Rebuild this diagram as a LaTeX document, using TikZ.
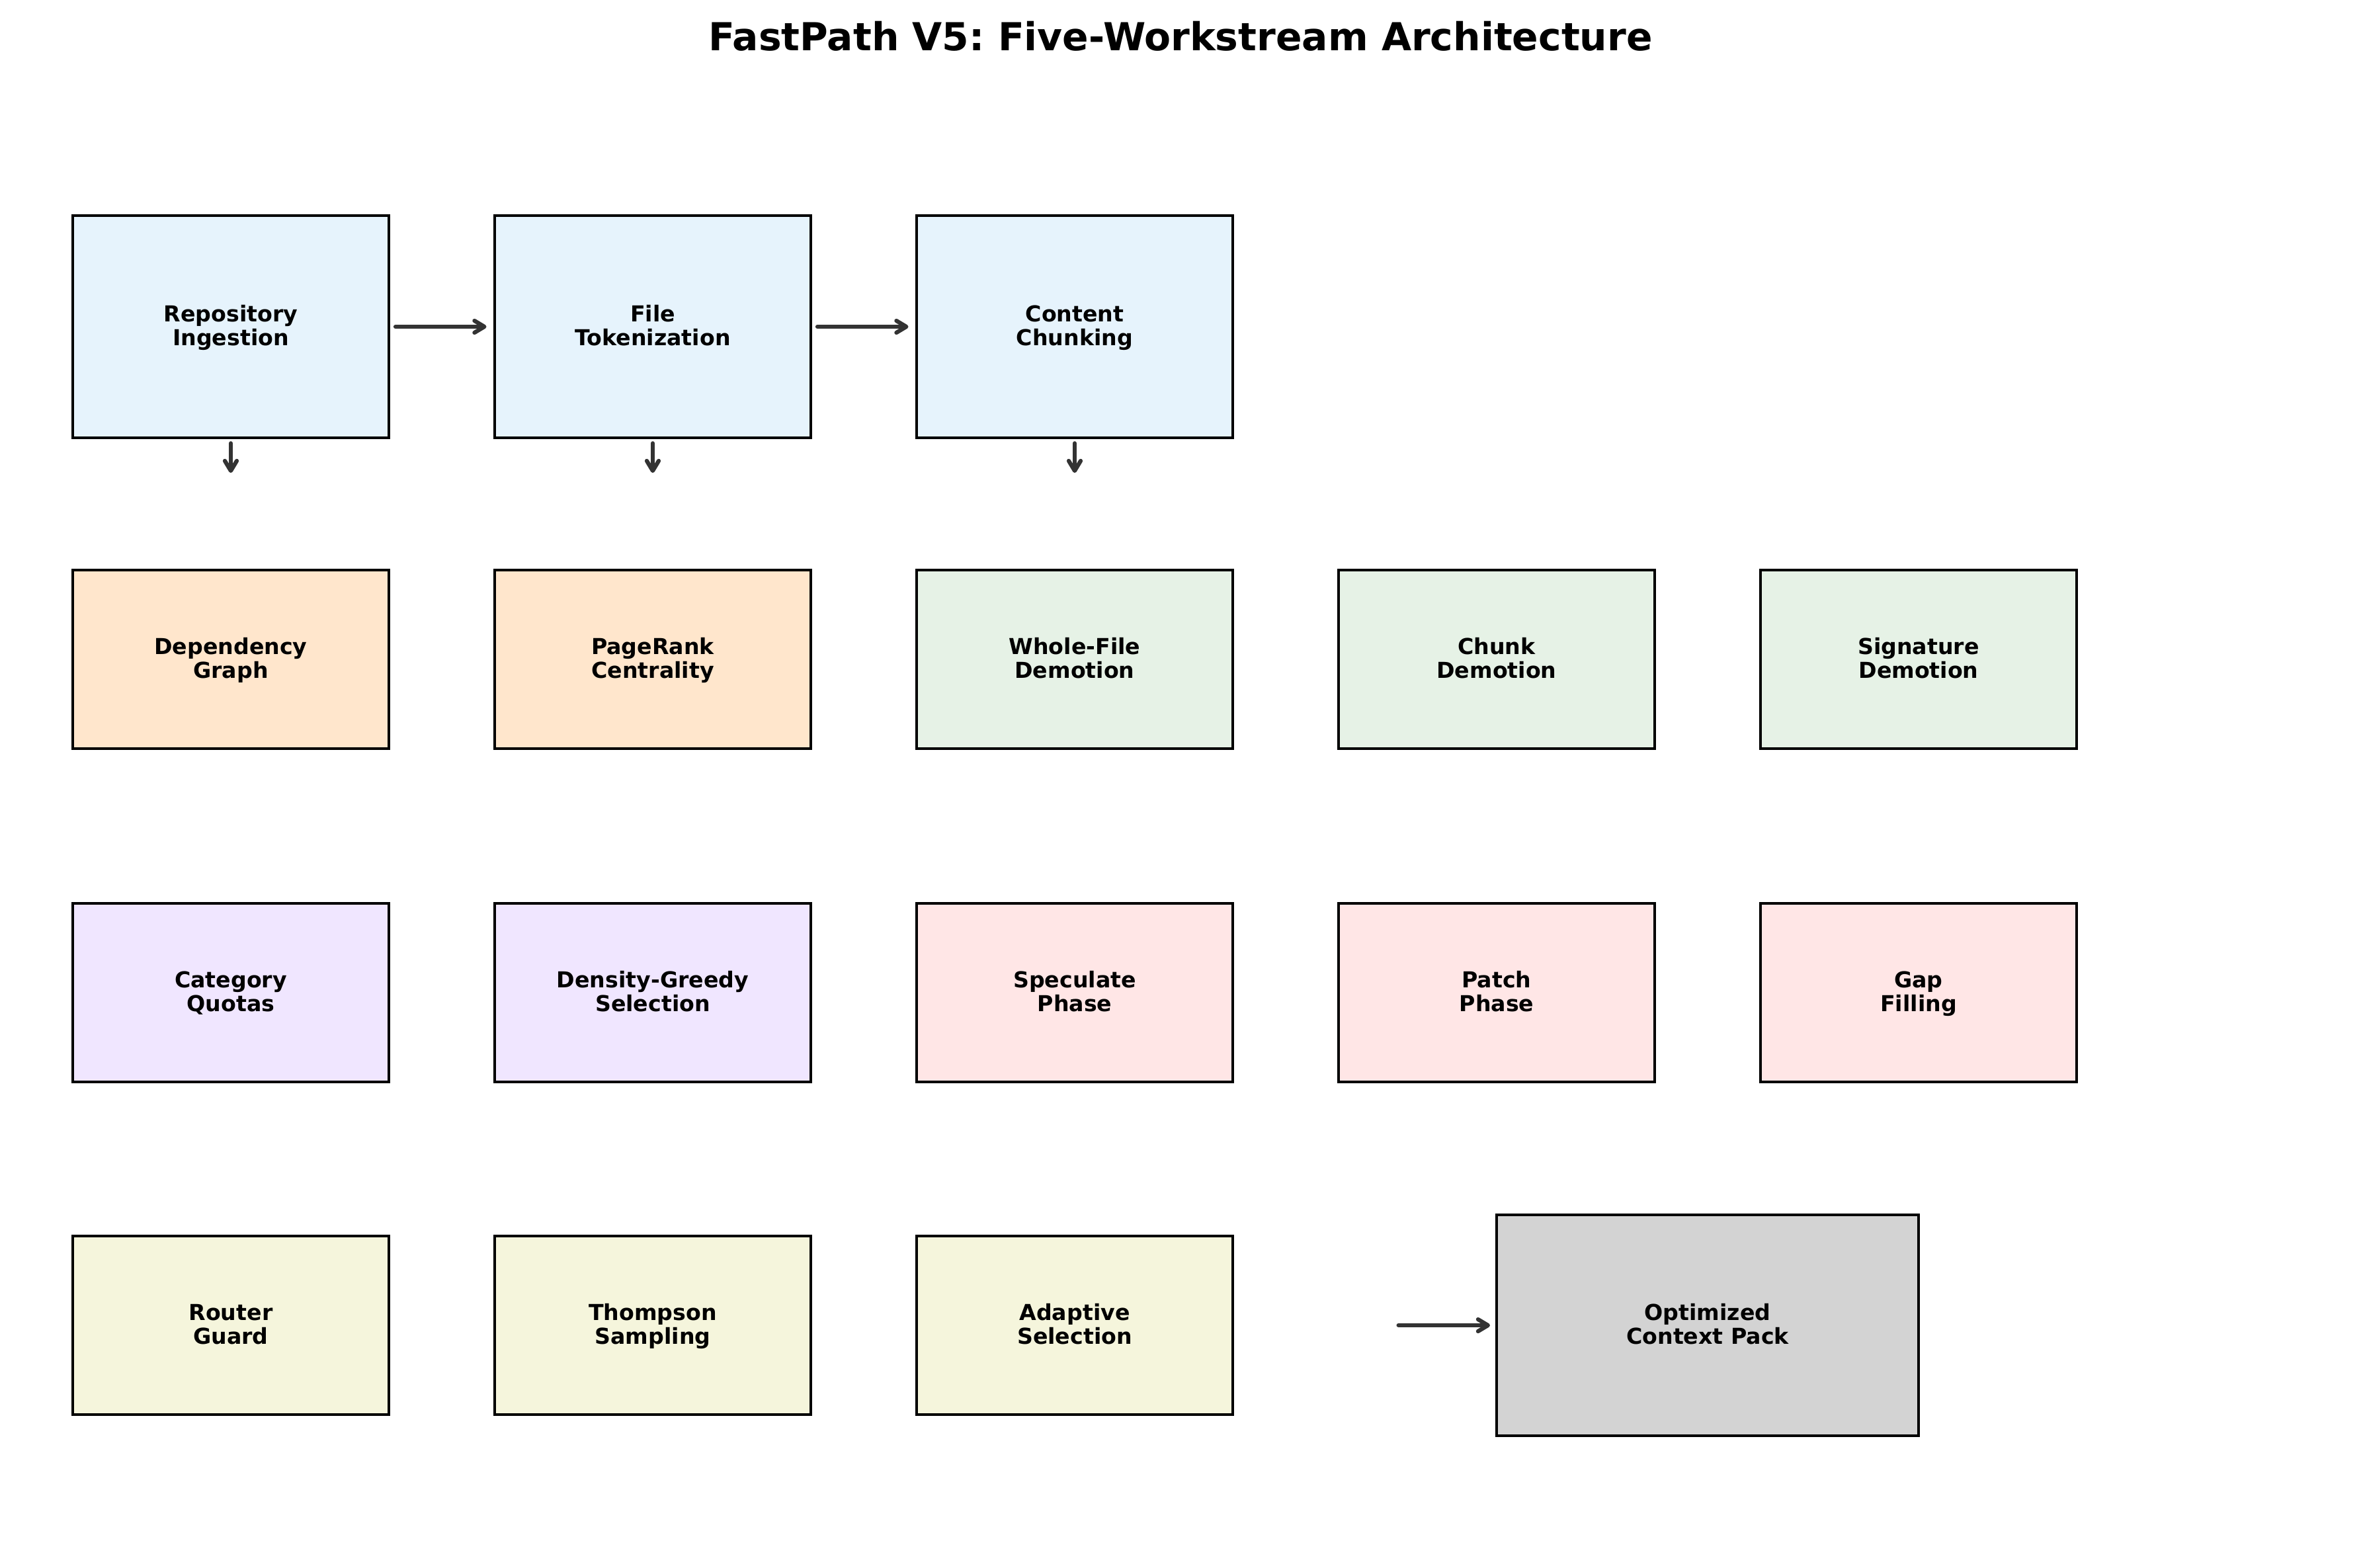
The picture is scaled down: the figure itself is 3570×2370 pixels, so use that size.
\documentclass[tikz,border=0pt]{standalone}
\usepackage{fontspec}
\setmainfont{DejaVu Sans}
\usetikzlibrary{arrows.meta}
\definecolor{cblue}{HTML}{E6F3FC}
\definecolor{corange}{HTML}{FFE6CC}
\definecolor{cgreen}{HTML}{E6F2E6}
\definecolor{cpurple}{HTML}{F0E6FF}
\definecolor{cpink}{HTML}{FFE6E6}
\definecolor{cbeige}{HTML}{F5F5DC}
\definecolor{cgray}{HTML}{D3D3D3}
\definecolor{arrgray}{HTML}{333333}
\frenchspacing
\newcommand\lblfont{\fontsize{33.2}{36.2}\selectfont\bfseries}
\newcommand\ttlfont{\fontsize{58.3}{70}\selectfont\bfseries}
\newcommand\lbl[2]{\rule{0pt}{32pt}#1\\#2\rule[-11.2pt]{0pt}{11.2pt}}
\tikzset{
  box/.style={draw=black, line width=4.7pt, minimum width=478pt, minimum height=270pt,
    inner sep=0pt, outer sep=0pt, align=center, font=\lblfont, text=black},
  topbox/.style={box, minimum height=336pt},
  arr/.style={draw=arrgray, line width=6.2pt, line cap=round,
    -{Straight Barb[length=15pt,width=18pt,round]}},
}
\begin{document}
\begin{tikzpicture}[x=1pt,y=-1pt]
\fill[white] (0,0) rectangle (3570,2370);
\useasboundingbox (0,0) rectangle (3570,2370);
\node[font=\ttlfont, anchor=base, inner sep=0pt] (title) at (1785,76) {FastPath V5: Five-Workstream Architecture};
% row 1
\node[topbox, fill=cblue] (ri) at (349,494) {\lbl{Repository}{Ingestion}};
\node[topbox, fill=cblue] (ft) at (987,494) {\lbl{File}{Tokenization}};
\node[topbox, fill=cblue] (cc) at (1625,494) {\lbl{Content}{Chunking}};
% row 2
\node[box, fill=corange] (dg) at (349,997) {\lbl{Dependency}{Graph}};
\node[box, fill=corange] (pr) at (987,997) {\lbl{PageRank}{Centrality}};
\node[box, fill=cgreen] (wf) at (1625,997) {\lbl{Whole-File}{Demotion}};
\node[box, fill=cgreen] (cd) at (2263,997) {\lbl{Chunk}{Demotion}};
\node[box, fill=cgreen] (sd) at (2901,997) {\lbl{Signature}{Demotion}};
% row 3
\node[box, fill=cpurple] (cq) at (349,1501) {\lbl{Category}{Quotas}};
\node[box, fill=cpurple] (dgs) at (987,1501) {\lbl{Density-Greedy}{Selection}};
\node[box, fill=cpink] (sp) at (1625,1501) {\lbl{Speculate}{Phase}};
\node[box, fill=cpink] (pp) at (2263,1501) {\lbl{Patch}{Phase}};
\node[box, fill=cpink] (gf) at (2901,1501) {\lbl{Gap}{Filling}};
% row 4
\node[box, fill=cbeige] (rg) at (349,2004) {\lbl{Router}{Guard}};
\node[box, fill=cbeige] (ts) at (987,2004) {\lbl{Thompson}{Sampling}};
\node[box, fill=cbeige] (as) at (1625,2004) {\lbl{Adaptive}{Selection}};
\node[box, fill=cgray, minimum width=638pt, minimum height=334pt] (ocp) at (2582,2004) {\lbl{Optimized}{Context Pack}};
% arrows
\draw[arr] ([xshift=10pt]ri.east) -- ([xshift=-12.5pt]ft.west);
\draw[arr] ([xshift=10pt]ft.east) -- ([xshift=-12.5pt]cc.west);
\coordinate (e1) at (349,715);
\coordinate (e2) at (987,715);
\coordinate (e3) at (1625,715);
\draw[arr] ([yshift=-8.3pt]ri.south) -- (e1);
\draw[arr] ([yshift=-8.3pt]ft.south) -- (e2);
\draw[arr] ([yshift=-8.3pt]cc.south) -- (e3);
\coordinate (fs) at (2114.6,2004);
\draw[arr] (fs) -- ([xshift=-10pt]ocp.west);
\end{tikzpicture}
\end{document}
